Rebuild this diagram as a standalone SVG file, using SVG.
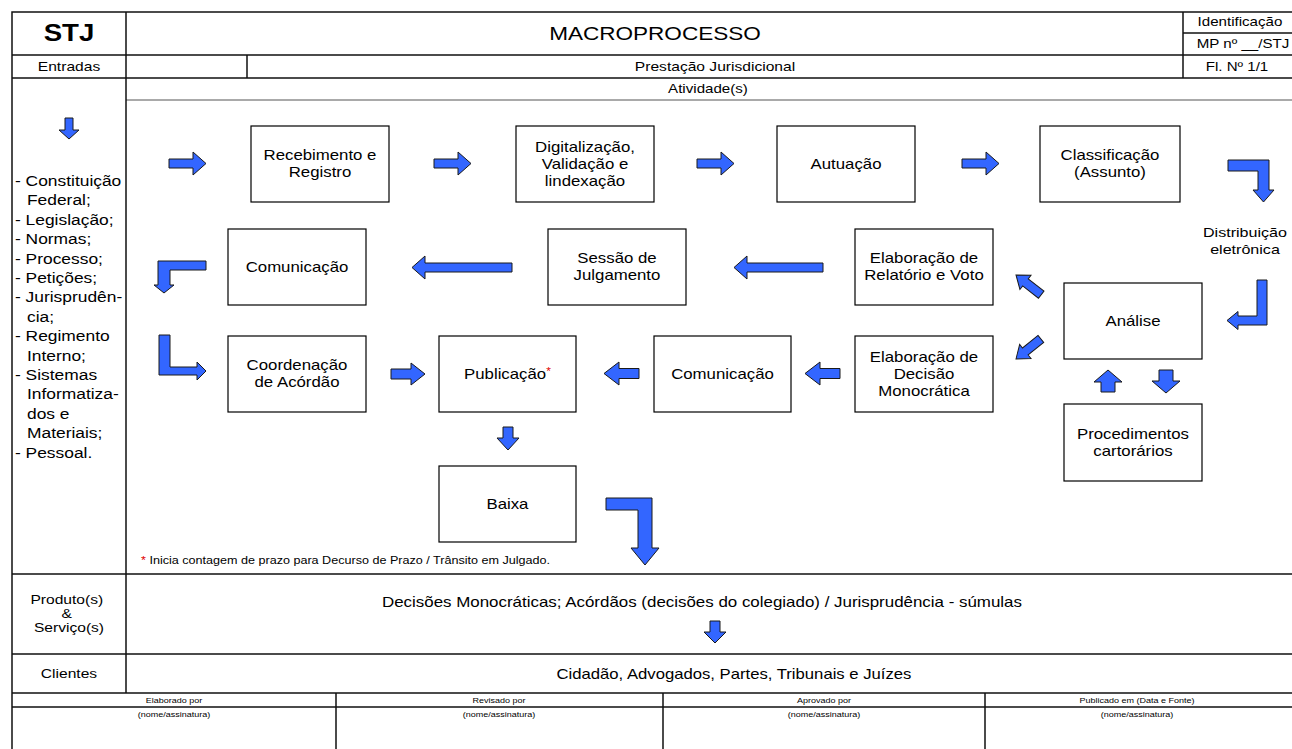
<svg xmlns="http://www.w3.org/2000/svg" width="1292" height="749" viewBox="0 0 1292 749">
  <style>
    .t { font-family: "Liberation Sans", Arial, sans-serif; fill: #000; text-anchor: middle; transform-box: fill-box; transform-origin: center; transform: scaleX(1.2); }
    .ls { text-anchor: start; transform-origin: left center; }
    .b { font-weight: bold; }
    .box { fill: #fff; stroke: #000; stroke-width: 1.2; }
    .grid { stroke: #111; stroke-width: 1.5; fill: none; }
    .thin { stroke: #555; stroke-width: 1; fill: none; }
    .arr { fill: #3366ff; stroke: #1a1a1a; stroke-width: 1; stroke-linejoin: miter; }
    .red { fill: #e00000; }
  </style>

  <rect width="1292" height="749" fill="#fff"/>

  <!-- form grid -->
  <g id="form">
    <path class="grid" d="M12,749 V12 H1295"/>
    <path class="grid" d="M12,55 H1295 M12,78 H1295 M12,574 H1295 M12,654 H1295 M12,693 H1295 M12,707 H1295"/>
    <path class="grid" d="M1183,33 H1295"/>
    <path class="thin" d="M126,100 H1295"/>
    <path class="grid" d="M126,12 V693 M1183,12 V78 M247,55 V78"/>
    <path class="grid" d="M336,693 V749 M663,693 V749 M985,693 V749"/>

    <text class="t b" x="69" y="41" font-size="23">STJ</text>
    <text class="t" x="655" y="40" font-size="18.8">MACROPROCESSO</text>
    <text class="t" x="1240" y="26.5" font-size="12.6">Identificação</text>
    <text class="t" x="1243" y="48.5" font-size="12.6">MP nº __/STJ</text>
    <text class="t" x="69" y="71.5" font-size="13">Entradas</text>
    <text class="t" x="715" y="71.5" font-size="13">Prestação Jurisdicional</text>
    <text class="t" x="1237" y="71.5" font-size="12.6">Fl. Nº 1/1</text>
    <text class="t" x="708" y="93.5" font-size="12.6">Atividade(s)</text>

    <text class="t ls" font-size="14.5">
      <tspan x="15" y="186">- Constituição</tspan>
      <tspan x="25" y="205.4">Federal;</tspan>
      <tspan x="15" y="224.8">- Legislação;</tspan>
      <tspan x="15" y="244.2">- Normas;</tspan>
      <tspan x="15" y="263.6">- Processo;</tspan>
      <tspan x="15" y="283">- Petições;</tspan>
      <tspan x="15" y="302.4">- Jurisprudên-</tspan>
      <tspan x="25" y="321.8">cia;</tspan>
      <tspan x="15" y="341.2">- Regimento</tspan>
      <tspan x="25" y="360.6">Interno;</tspan>
      <tspan x="15" y="380">- Sistemas</tspan>
      <tspan x="25" y="399.4">Informatiza-</tspan>
      <tspan x="25" y="418.8">dos e</tspan>
      <tspan x="25" y="438.2">Materiais;</tspan>
      <tspan x="15" y="457.6">- Pessoal.</tspan>
    </text>

    <text class="t" x="69" font-size="13">
      <tspan x="69" y="604">Produto(s)</tspan>
      <tspan x="69" y="618">&amp;</tspan>
      <tspan x="69" y="632">Serviço(s)</tspan>
    </text>
    <text class="t" x="702" y="607" font-size="14.1">Decisões Monocráticas; Acórdãos (decisões do colegiado) / Jurisprudência - súmulas</text>
    <text class="t" x="69" y="678" font-size="13">Clientes</text>
    <text class="t" x="734" y="679" font-size="13.9">Cidadão, Advogados, Partes, Tribunais e Juízes</text>

    <text class="t" x="174" y="703" font-size="7.5">Elaborado por</text>
    <text class="t" x="499" y="703" font-size="7.5">Revisado por</text>
    <text class="t" x="824" y="703" font-size="7.5">Aprovado por</text>
    <text class="t" x="1137" y="703" font-size="7.5">Publicado em (Data e Fonte)</text>
    <text class="t" x="174" y="717" font-size="7.5">(nome/assinatura)</text>
    <text class="t" x="499" y="717" font-size="7.5">(nome/assinatura)</text>
    <text class="t" x="824" y="717" font-size="7.5">(nome/assinatura)</text>
    <text class="t" x="1137" y="717" font-size="7.5">(nome/assinatura)</text>

    <text class="t ls" x="141" y="564" font-size="10.5"><tspan class="red">*</tspan> Inicia contagem de prazo para Decurso de Prazo / Trânsito em Julgado.</text>
  </g>

  <!-- activity boxes -->
  <g id="recebimento">
    <rect class="box" x="251" y="126" width="138" height="76"/>
    <text class="t" font-size="14"><tspan x="320" y="160.5">Recebimento e</tspan><tspan x="320" y="177.5">Registro</tspan></text>
  </g>
  <g id="digitalizacao">
    <rect class="box" x="516" y="126" width="138" height="76"/>
    <text class="t" font-size="14"><tspan x="585" y="152">Digitalização,</tspan><tspan x="585" y="169">Validação e</tspan><tspan x="585" y="186">lindexação</tspan></text>
  </g>
  <g id="autuacao">
    <rect class="box" x="777" y="126" width="138" height="76"/>
    <text class="t" x="846" y="169" font-size="14">Autuação</text>
  </g>
  <g id="classificacao">
    <rect class="box" x="1040" y="126" width="140" height="76"/>
    <text class="t" font-size="14"><tspan x="1110" y="160.5">Classificação</tspan><tspan x="1110" y="177.5">(Assunto)</tspan></text>
  </g>
  <g id="distribuicao">
    <text class="t" font-size="13.4"><tspan x="1245" y="237">Distribuição</tspan><tspan x="1245" y="254">eletrônica</tspan></text>
  </g>
  <g id="analise">
    <rect class="box" x="1064" y="283" width="138" height="76"/>
    <text class="t" x="1133" y="326" font-size="14">Análise</text>
  </g>
  <g id="procedimentos">
    <rect class="box" x="1064" y="404" width="138" height="77"/>
    <text class="t" font-size="14"><tspan x="1133" y="439">Procedimentos</tspan><tspan x="1133" y="456">cartorários</tspan></text>
  </g>
  <g id="relatorio-voto">
    <rect class="box" x="855" y="229" width="138" height="76"/>
    <text class="t" font-size="14"><tspan x="924" y="263.5">Elaboração de</tspan><tspan x="924" y="280.5">Relatório e Voto</tspan></text>
  </g>
  <g id="sessao">
    <rect class="box" x="548" y="229" width="138" height="76"/>
    <text class="t" font-size="14"><tspan x="617" y="263.5">Sessão de</tspan><tspan x="617" y="280.5">Julgamento</tspan></text>
  </g>
  <g id="comunicacao-1">
    <rect class="box" x="228" y="229" width="138" height="76"/>
    <text class="t" x="297" y="272" font-size="14">Comunicação</text>
  </g>
  <g id="coordenacao">
    <rect class="box" x="228" y="336" width="138" height="76"/>
    <text class="t" font-size="14"><tspan x="297" y="370.5">Coordenação</tspan><tspan x="297" y="387.5">de Acórdão</tspan></text>
  </g>
  <g id="publicacao">
    <rect class="box" x="439" y="336" width="137" height="76"/>
    <text class="t" x="507.5" y="379" font-size="14">Publicação<tspan class="red" font-size="10" dy="-4">*</tspan></text>
  </g>
  <g id="comunicacao-2">
    <rect class="box" x="654" y="336" width="137" height="76"/>
    <text class="t" x="722.5" y="379" font-size="14">Comunicação</text>
  </g>
  <g id="decisao-monocratica">
    <rect class="box" x="855" y="336" width="138" height="76"/>
    <text class="t" font-size="14"><tspan x="924" y="362">Elaboração de</tspan><tspan x="924" y="379">Decisão</tspan><tspan x="924" y="396">Monocrática</tspan></text>
  </g>
  <g id="baixa">
    <rect class="box" x="439" y="466" width="137" height="76"/>
    <text class="t" x="507.5" y="509" font-size="14">Baixa</text>
  </g>

  <!-- block arrows -->
  <g id="connectors">
    <path class="arr" d="M65,118 H73 V130 H79 L69,139 L59,130 H65 Z"/>
    <path class="arr" d="M169,159 H193 V152 L206,163.5 L193,175 V168 H169 Z"/>
    <path class="arr" d="M434,159 H458 V152 L471,163.5 L458,175 V168 H434 Z"/>
    <path class="arr" d="M697,159 H721 V152 L734,163.5 L721,175 V168 H697 Z"/>
    <path class="arr" d="M962,159 H986 V152 L999,163.5 L986,175 V168 H962 Z"/>
    <path class="arr" d="M1228,160 H1269 V190 H1274 L1263.5,202 L1253,190 H1258 V171 H1228 Z"/>
    <path class="arr" d="M1257,280 H1267 V325 H1238 V329.5 L1227,320.5 L1238,311.5 V316 H1257 Z"/>
    <path class="arr" transform="translate(1016,275) rotate(38)" d="M0,0 L12,-9 V-4.5 H32 V4.5 H12 V9 Z"/>
    <path class="arr" transform="translate(1016,359) rotate(-39)" d="M0,0 L12,-9 V-4.5 H32 V4.5 H12 V9 Z"/>
    <path class="arr" d="M1108,370 L1122,382 H1115 V392 H1101 V382 H1094 Z"/>
    <path class="arr" d="M1159,370 H1173 V381 H1180 L1166,393 L1152,381 H1159 Z"/>
    <path class="arr" d="M734,267.5 L747,256 V263 H823 V272 H747 V279 Z"/>
    <path class="arr" d="M412,267.5 L425,256 V263 H512 V272 H425 V279 Z"/>
    <path class="arr" d="M206,261 H158 V285 H154 L164,293 L174,285 H170 V270 H206 Z"/>
    <path class="arr" d="M159,335 H170 V367 H197 V362 L206,371 L197,380 V375 H159 Z"/>
    <path class="arr" d="M391,369 H411 V363 L425,374 L411,385 V379 H391 Z"/>
    <path class="arr" d="M805,373.5 L820,362 V368.5 H840 V378.5 H820 V385 Z"/>
    <path class="arr" d="M604,373.5 L619,362 V368.5 H639 V378.5 H619 V385 Z"/>
    <path class="arr" d="M503,427 H513 V438 H519 L508,450 L497,438 H503 Z"/>
    <path class="arr" d="M606,498 H652 V548 H659 L645,565 L631,548 H638 V510 H606 Z"/>
    <path class="arr" d="M710,621 H720 V632 H726 L715,643 L704,632 H710 Z"/>
  </g>
</svg>
